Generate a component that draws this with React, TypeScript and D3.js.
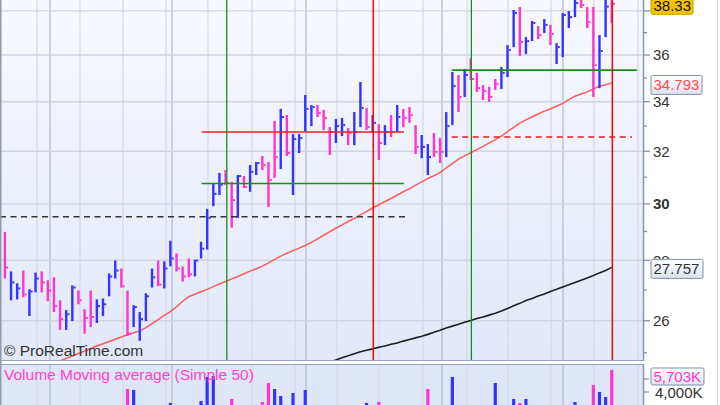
import React, { useEffect, useRef } from 'react';
import * as d3 from 'd3';

// daily bars (high / low / close), colour: u = blue, d = pink
const highs = [
    28.99, 27.62, 27.22, 27.65, 27.02, 27.58, 27.62, 27.32, 27.42, 26.66,
    26.34, 27.15, 26.98, 26.37, 26.98, 26.69, 26.72, 27.55, 27.99, 27.72,
    26.98, 26.50, 26.28, 26.89, 27.72, 27.99, 27.96, 28.68, 28.23, 27.79,
    28.06, 28.02, 28.64, 29.82, 30.78, 31.16, 31.27, 30.82, 31.08, 31.04,
    31.46, 31.58, 31.81, 31.58, 33.21, 33.70, 33.45, 32.68, 32.68, 34.28,
    33.86, 33.86, 33.66, 32.96, 33.29, 33.33, 32.92, 33.57, 34.83, 33.74,
    33.45, 33.08, 33.04, 33.45, 33.86, 33.70, 33.78, 33.04, 32.64, 32.28,
    32.72, 32.52, 33.57, 35.26, 35.13, 35.39, 35.87, 35.22, 34.70, 34.62,
    34.96, 35.48, 36.44, 38.04, 38.18, 36.80, 37.53, 37.30, 37.62, 37.35,
    36.53, 37.90, 37.99, 38.55, 38.60, 38.18, 38.18, 36.89, 38.60, 38.60,
];
const lows = [
    27.38, 26.66, 26.69, 26.76, 26.15, 26.92, 26.92, 26.63, 26.28, 25.71,
    25.71, 25.99, 26.53, 25.59, 25.80, 25.93, 26.15, 26.79, 27.38, 27.08,
    25.52, 25.80, 25.37, 25.99, 27.08, 27.12, 27.05, 27.79, 27.62, 27.28,
    27.42, 27.45, 28.06, 28.37, 29.92, 30.33, 30.71, 29.14, 29.49, 30.59,
    30.45, 31.08, 31.27, 29.89, 30.97, 31.31, 31.81, 30.33, 31.93, 32.80,
    33.00, 33.37, 32.84, 31.85, 32.32, 32.60, 32.24, 32.24, 32.96, 32.84,
    32.72, 31.66, 32.24, 32.56, 32.76, 32.96, 33.13, 31.89, 31.73, 31.08,
    31.77, 31.54, 31.77, 33.04, 33.57, 34.20, 34.92, 34.41, 34.07, 33.99,
    34.49, 34.53, 35.04, 36.35, 35.96, 36.04, 36.62, 36.71, 36.98, 36.44,
    35.61, 35.91, 37.21, 37.71, 38.13, 37.21, 34.20, 34.57, 36.80, 37.44,
];
const closes = [
    27.75, 27.25, 27.05, 26.85, 26.95, 27.38, 27.25, 26.98, 26.47, 26.05,
    26.21, 27.08, 26.66, 26.09, 26.12, 26.47, 26.53, 27.45, 27.65, 27.12,
    25.59, 26.44, 26.05, 26.79, 27.42, 27.18, 27.72, 28.06, 27.72, 27.45,
    27.52, 27.99, 28.40, 29.49, 30.37, 30.71, 30.78, 30.14, 31.04, 30.63,
    31.20, 31.54, 31.46, 30.89, 31.77, 33.37, 31.93, 32.48, 32.52, 33.70,
    33.78, 33.53, 33.33, 32.76, 33.00, 33.04, 32.72, 32.76, 33.74, 32.96,
    33.13, 32.32, 32.76, 32.76, 33.37, 33.33, 33.45, 32.17, 32.17, 31.77,
    31.97, 31.97, 33.00, 34.66, 34.20, 35.13, 34.96, 34.57, 34.45, 34.20,
    34.75, 35.22, 36.22, 37.90, 36.58, 36.62, 37.44, 36.89, 37.35, 36.94,
    36.35, 37.81, 37.71, 38.37, 38.27, 37.48, 35.56, 36.18, 38.20, 38.33,
];
const barDirs = 'duuduudddd' + 'uuddduuuud' + 'duuuuduudd' + 'duuuuuddud' + 'uuddduduuu'
    + 'uddduuduud' + 'udududdduu' + 'dduududddd' + 'duuuduudud' + 'uuuuddduud';

// moving averages (red starts at bar 4, black at bar 50)
const redMaStart = 4;
const redMa = [
    24.39, 24.46, 24.53, 24.60, 24.68, 24.75, 24.83, 24.90, 24.98, 25.05,
    25.13, 25.21, 25.28, 25.35, 25.42, 25.49, 25.56, 25.62, 25.68, 25.78,
    25.91, 26.04, 26.17, 26.29, 26.45, 26.63, 26.78, 26.86, 26.94, 27.02,
    27.11, 27.20, 27.28, 27.37, 27.45, 27.54, 27.63, 27.71, 27.80, 27.91,
    28.03, 28.14, 28.24, 28.33, 28.42, 28.51, 28.62, 28.74, 28.87, 29.00,
    29.12, 29.24, 29.36, 29.47, 29.60, 29.72, 29.85, 29.97, 30.09, 30.20,
    30.33, 30.45, 30.57, 30.70, 30.82, 30.95, 31.06, 31.17, 31.35, 31.52,
    31.69, 31.82, 31.94, 32.06, 32.19, 32.33, 32.46, 32.60, 32.78, 32.95,
    33.12, 33.25, 33.37, 33.49, 33.61, 33.70, 33.81, 33.93, 34.09, 34.23,
    34.32, 34.41, 34.54, 34.65, 34.71, 34.793,
];
const blackMaStart = 50;
const blackMa = [
    24.53, 24.60, 24.66, 24.72, 24.78, 24.85, 24.91, 24.97, 25.03, 25.08,
    25.12, 25.17, 25.21, 25.26, 25.30, 25.36, 25.41, 25.46, 25.51, 25.57,
    25.64, 25.70, 25.77, 25.83, 25.89, 25.95, 26.01, 26.07, 26.12, 26.18,
    26.24, 26.31, 26.39, 26.48, 26.56, 26.65, 26.72, 26.80, 26.87, 26.95,
    27.02, 27.10, 27.17, 27.25, 27.32, 27.40, 27.48, 27.57, 27.65, 27.757,
];

// volume (thousands), only the bars tall enough to show in the panel
const volIndex = [20, 21, 27, 32, 33, 34, 37, 42, 43, 44, 45, 47, 49, 59, 61, 69, 73, 80, 83, 84, 85, 93, 96, 97, 98, 99];
const volValues = [4231, 4154, 3154, 3308, 5154, 5231, 3462, 3231, 4692, 4231, 3692, 3923, 4154, 3154, 3231, 4231, 5154, 4692, 3462, 3154, 3462, 3231, 4538, 4000, 3615, 5703];
const volDirs = 'duuuuudddu' + 'uuuudduuud' + 'uuduud';

// drawn levels: price, first bar, last bar
const levelPrices = [32.76, 30.76, 29.53, 35.34, 32.56];
const levelFrom = [32.1, 32.1, -0.8, 72.9, 72.9];
const levelTo = [65.1, 65.1, 66, 103.1, 102.3];
const levelColors = ['#ee2020', '#1d8a1d', '#333333', '#1d8a1d', '#e81a1a'];
const levelDashed = [false, false, true, false, true];

// vertical markers on bars
const markerBars = [36.2, 60.1, 76.1, 99.1];
const markerColors = ['#1d8a1d', '#ee1111', '#1d8a1d', '#ee1111'];

// calendar grid (bar positions)
const weekGrid = [5.24, 12.25, 19.27, 26.28, 33.13, 40.31, 47.33, 54.18, 61.03, 68.21, 75.39, 82.08, 89.09, 96.11, 103.28];
const monthGrid = [7.36, 27.26, 49.12, 71.31, 91.05];

const priceTicks = [26, 28, 30, 32, 34, 36, 38];
const labelledTicks = [26, 28, 30, 32, 34, 36];
const minorTicks = [25, 27, 29, 31, 33, 35, 37];
const volTicks = [4000, 5000];
const volLabels = [4000];

const lastClose = 38.33;
const lastRedMa = 34.793;
const lastBlackMa = 27.757;
const lastVolume = 5703;

const FONT = '"Liberation Sans", Arial, sans-serif';
const BLUE = '#3434ff';
const PINK = '#ff36cc';

export default function App() {
    const svgRef = useRef<SVGSVGElement>(null);

    useEffect(() => {
        if (!svgRef.current) return;
        const svg = d3.select(svgRef.current);
        svg.selectAll('*').remove();

        const width = 720;
        const plotRight = 643;
        const priceBottom = 360;
        const volTop = 365;
        const height = 405;

        const x = d3.scaleLinear().domain([-0.8, 104.1]).range([0, plotRight]);
        const y = d3.scaleLog().domain([24.78, 38.51]).range([priceBottom, 0]);
        const yv = d3.scaleLinear().domain([4000, 5000]).range([392, 379]);

        const defs = svg.append('defs');
        const bg = defs.append('linearGradient').attr('id', 'bgPrice')
            .attr('x1', 0).attr('y1', 0).attr('x2', 0).attr('y2', 1);
        bg.append('stop').attr('offset', '0%').attr('stop-color', '#f8f9fe');
        bg.append('stop').attr('offset', '100%').attr('stop-color', '#e1e8f8');
        const boxGrad = defs.append('linearGradient').attr('id', 'boxGrad')
            .attr('x1', 0).attr('y1', 0).attr('x2', 0).attr('y2', 1);
        boxGrad.append('stop').attr('offset', '0%').attr('stop-color', '#ffffff');
        boxGrad.append('stop').attr('offset', '100%').attr('stop-color', '#dbe3f0');
        defs.append('clipPath').attr('id', 'clipPrice').append('rect')
            .attr('x', 0).attr('y', 0).attr('width', plotRight).attr('height', priceBottom);
        defs.append('clipPath').attr('id', 'clipVol').append('rect')
            .attr('x', 0).attr('y', volTop).attr('width', plotRight).attr('height', height - volTop);

        svg.append('rect').attr('width', width).attr('height', height).attr('fill', '#ffffff');
        svg.append('rect').attr('width', plotRight).attr('height', priceBottom).attr('fill', 'url(#bgPrice)');
        svg.append('rect').attr('y', volTop).attr('width', plotRight).attr('height', height - volTop).attr('fill', '#dfe6f7');

        // grid
        const grid = svg.append('g');
        const vGrid = (pos: number[], color: string, w: number) => {
            pos.forEach(p => {
                [[0, priceBottom], [volTop, height]].forEach(([a, b]) => {
                    grid.append('line')
                        .attr('x1', x(p)).attr('x2', x(p)).attr('y1', a).attr('y2', b)
                        .attr('stroke', color).attr('stroke-width', w);
                });
            });
        };
        vGrid(weekGrid, '#d5d9e6', 1.2);
        vGrid(monthGrid, '#b9c0d2', 1.4);
        priceTicks.forEach(t => {
            grid.append('line')
                .attr('x1', 0).attr('x2', plotRight).attr('y1', y(t)).attr('y2', y(t))
                .attr('stroke', '#d0d5e3').attr('stroke-width', 1.4);
        });

        const price = svg.append('g').attr('clip-path', 'url(#clipPrice)');

        // moving averages
        const maLine = (start: number) => d3.line<number>()
            .x((_, i) => x(start + i))
            .y(d => y(d))
            .curve(d3.curveLinear);
        price.append('path').datum(redMa)
            .attr('fill', 'none').attr('stroke', '#ff5a5a').attr('stroke-width', 1.5)
            .attr('d', maLine(redMaStart));
        price.append('path').datum(blackMa)
            .attr('fill', 'none').attr('stroke', '#1e1e1e').attr('stroke-width', 1.6)
            .attr('d', maLine(blackMaStart));

        // price bars
        highs.forEach((h, i) => {
            const color = barDirs[i] === 'u' ? BLUE : PINK;
            price.append('rect')
                .attr('x', x(i) - 1.2).attr('width', 2.4)
                .attr('y', y(h)).attr('height', y(lows[i]) - y(h))
                .attr('fill', color);
            price.append('rect')
                .attr('x', x(i) + 1.2).attr('width', 2)
                .attr('y', y(closes[i]) - 1).attr('height', 2)
                .attr('fill', color);
        });

        // levels
        levelPrices.forEach((p, i) => {
            price.append('line')
                .attr('x1', x(levelFrom[i])).attr('x2', x(levelTo[i]))
                .attr('y1', y(p)).attr('y2', y(p))
                .attr('stroke', levelColors[i]).attr('stroke-width', 1.6)
                .attr('stroke-dasharray', levelDashed[i] ? '6,4.5' : null);
        });

        // vertical markers
        markerBars.forEach((b, i) => {
            price.append('line')
                .attr('x1', x(b)).attr('x2', x(b)).attr('y1', 0).attr('y2', priceBottom)
                .attr('stroke', markerColors[i]).attr('stroke-width', i % 2 ? 1.6 : 1.3);
        });

        // volume
        const vol = svg.append('g').attr('clip-path', 'url(#clipVol)');
        volIndex.forEach((b, i) => {
            vol.append('rect')
                .attr('x', x(b) - 1.6).attr('width', 3.2)
                .attr('y', yv(volValues[i])).attr('height', height - yv(volValues[i]))
                .attr('fill', volDirs[i] === 'u' ? BLUE : PINK);
        });

        // panel borders
        svg.append('line').attr('x1', 0).attr('x2', plotRight).attr('y1', priceBottom + 0.5).attr('y2', priceBottom + 0.5)
            .attr('stroke', '#98a4b4').attr('stroke-width', 1);
        svg.append('line').attr('x1', 0).attr('x2', plotRight).attr('y1', volTop - 0.5).attr('y2', volTop - 0.5)
            .attr('stroke', '#98a4b4').attr('stroke-width', 1);
        svg.append('line').attr('x1', 0.75).attr('x2', 0.75).attr('y1', 0).attr('y2', height)
            .attr('stroke', '#8e9cae').attr('stroke-width', 1.5);
        svg.append('line').attr('x1', plotRight + 0.5).attr('x2', plotRight + 0.5).attr('y1', 0).attr('y2', priceBottom + 1)
            .attr('stroke', '#8a99ad').attr('stroke-width', 1.5);
        svg.append('line').attr('x1', plotRight + 0.5).attr('x2', plotRight + 0.5).attr('y1', volTop - 1).attr('y2', height)
            .attr('stroke', '#8a99ad').attr('stroke-width', 1.5);
        svg.append('line').attr('x1', 717.5).attr('x2', 717.5).attr('y1', 0).attr('y2', height)
            .attr('stroke', '#d2d6de').attr('stroke-width', 1);

        // price axis (labels hidden under the value boxes are left out)
        const axis = svg.append('g').attr('font-family', FONT).attr('font-size', 15).attr('fill', '#333');
        minorTicks.forEach(t => {
            axis.append('line').attr('x1', plotRight).attr('x2', plotRight + 4)
                .attr('y1', y(t)).attr('y2', y(t)).attr('stroke', '#7d8a9c').attr('stroke-width', 1.2);
        });
        priceTicks.forEach(t => {
            axis.append('line').attr('x1', plotRight).attr('x2', plotRight + 7)
                .attr('y1', y(t)).attr('y2', y(t)).attr('stroke', '#7d8a9c').attr('stroke-width', 1.2);
        });
        labelledTicks.forEach(t => {
            axis.append('text')
                .attr('x', 653).attr('y', y(t)).attr('dy', '0.36em')
                .attr('font-weight', t % 10 === 0 ? 'bold' : 'normal')
                .text(d3.format('d')(t));
        });
        volTicks.forEach(t => {
            axis.append('line').attr('x1', plotRight).attr('x2', plotRight + 6)
                .attr('y1', yv(t)).attr('y2', yv(t)).attr('stroke', '#7d8a9c').attr('stroke-width', 1.2);
        });
        volLabels.forEach(t => {
            axis.append('text')
                .attr('x', 655).attr('y', yv(t) + 1).attr('dy', '0.36em')
                .text(d3.format(',')(t) + 'K');
        });

        // value boxes
        const valueBox = (cy: number, w: number, h: number, label: string, fill: string, stroke: string, color: string) => {
            axis.append('rect')
                .attr('x', 651).attr('y', cy - h / 2).attr('width', w).attr('height', h)
                .attr('rx', 1.5).attr('fill', fill).attr('stroke', stroke).attr('stroke-width', 1);
            axis.append('text')
                .attr('x', 653.5).attr('y', cy).attr('dy', '0.36em')
                .attr('fill', color).text(label);
        };
        valueBox(y(lastClose) + 1.5, 42, 18, d3.format('.2f')(lastClose), '#f3c200', '#c49c00', '#111');
        valueBox(y(lastRedMa) + 2, 51, 19, d3.format('.3f')(lastRedMa), 'url(#boxGrad)', '#7e90a8', '#ff4d4d');
        valueBox(y(lastBlackMa) + 1.5, 52, 19, d3.format('.3f')(lastBlackMa), 'url(#boxGrad)', '#7e90a8', '#333');
        valueBox(376.5, 53, 17, d3.format(',')(lastVolume) + 'K', 'url(#boxGrad)', '#7e90a8', PINK);

        // captions
        svg.append('text')
            .attr('x', 4).attr('y', 356)
            .attr('font-family', FONT).attr('font-size', 15.5).attr('fill', '#333')
            .text('© ProRealTime.com');
        svg.append('text')
            .attr('x', 4).attr('y', 379.5)
            .attr('font-family', FONT).attr('font-size', 15.5).attr('fill', '#ff44cc')
            .text('Volume Moving average (Simple 50)');
    }, []);

    return (
        <svg ref={svgRef} width={720} height={405} viewBox="0 0 720 405"
            style={{ position: 'absolute', left: 0, top: 0, display: 'block' }} />
    );
}
